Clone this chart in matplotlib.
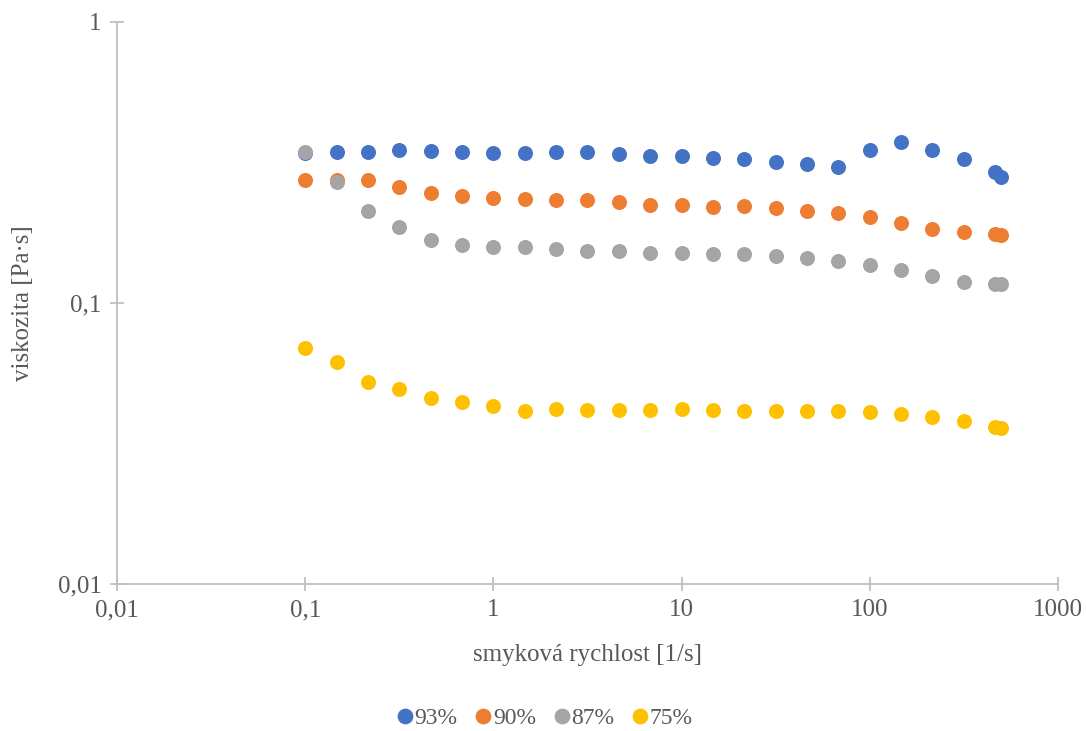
import matplotlib.pyplot as plt
from matplotlib.ticker import FixedLocator, NullLocator

plt.rcParams['font.family'] = ['Liberation Serif', 'DejaVu Serif']

shear = [0.1, 0.147, 0.215, 0.316, 0.464, 0.681, 1, 1.47, 2.15, 3.16, 4.64, 6.81,
         10, 14.7, 21.5, 31.6, 46.4, 68.1, 100, 147, 215, 316, 464, 500]

visc_93 = [0.342, 0.344, 0.344, 0.350, 0.347, 0.344, 0.342, 0.342, 0.344, 0.344, 0.339, 0.334,
           0.334, 0.328, 0.325, 0.318, 0.313, 0.305, 0.350, 0.374, 0.350, 0.325, 0.292, 0.281]
visc_90 = [0.274, 0.274, 0.274, 0.259, 0.246, 0.240, 0.236, 0.234, 0.232, 0.232, 0.229, 0.223,
           0.223, 0.220, 0.221, 0.218, 0.213, 0.209, 0.202, 0.193, 0.183, 0.179, 0.176, 0.175]
visc_87 = [0.344, 0.270, 0.213, 0.186, 0.168, 0.161, 0.158, 0.158, 0.156, 0.153, 0.153, 0.151,
           0.151, 0.149, 0.149, 0.147, 0.145, 0.141, 0.137, 0.131, 0.125, 0.119, 0.117, 0.117]
visc_75 = [0.0691, 0.0617, 0.0524, 0.0494, 0.0459, 0.0444, 0.0430, 0.0413, 0.0420, 0.0416, 0.0416, 0.0416,
           0.0420, 0.0416, 0.0413, 0.0413, 0.0413, 0.0413, 0.0409, 0.0403, 0.0393, 0.0380, 0.0362, 0.0359]

series = [("93%", visc_93, "#4472C4"),
          ("90%", visc_90, "#ED7D31"),
          ("87%", visc_87, "#A5A5A5"),
          ("75%", visc_75, "#FFC000")]

x_ticks = [0.01, 0.1, 1, 10, 100, 1000]
x_labels = ["0,01", "0,1", "1", "10", "100", "1000"]
y_ticks = [0.01, 0.1, 1]
y_labels = ["0,01", "0,1", "1"]

text_col = "#595959"
axis_col = "#BFBFBF"

fig = plt.figure(figsize=(10.86, 7.31), dpi=100)
ax = fig.add_axes([117 / 1086, 1 - 584 / 731, (1058 - 117) / 1086, (584 - 22) / 731])

for label, vals, col in series:
    ax.plot(shear, vals, linestyle='none', marker='o', markersize=10.8,
            color=col, markeredgewidth=0, label=label, clip_on=False, zorder=3)

ax.set_xscale('log')
ax.set_yscale('log')
ax.set_xlim(0.01, 1000)
ax.set_ylim(0.01, 1)

ax.xaxis.set_major_locator(FixedLocator(x_ticks))
ax.yaxis.set_major_locator(FixedLocator(y_ticks))
ax.xaxis.set_minor_locator(NullLocator())
ax.yaxis.set_minor_locator(NullLocator())
ax.set_xticklabels(x_labels)
ax.set_yticklabels(y_labels)

for side in ['top', 'right']:
    ax.spines[side].set_visible(False)
for side in ['left', 'bottom']:
    ax.spines[side].set_color(axis_col)
    ax.spines[side].set_linewidth(1.3)
ax.tick_params(axis='both', direction='inout', length=10, width=1.3, color=axis_col,
               labelcolor=text_col, labelsize=18, pad=6)

ax.set_xlabel("smyková rychlost [1/s]", fontsize=18, color=text_col, labelpad=16)
ax.set_ylabel("viskozita [Pa·s]", fontsize=18, color=text_col, labelpad=17)

leg = fig.legend(loc='center', bbox_to_anchor=(543 / 1086, 1 - 718 / 731), ncol=4,
                 frameon=False, fontsize=17, handletextpad=-0.1, columnspacing=0.6,
                 handlelength=1.0, markerscale=1.05, labelcolor=text_col)

fig.savefig("out.png", dpi=100)
